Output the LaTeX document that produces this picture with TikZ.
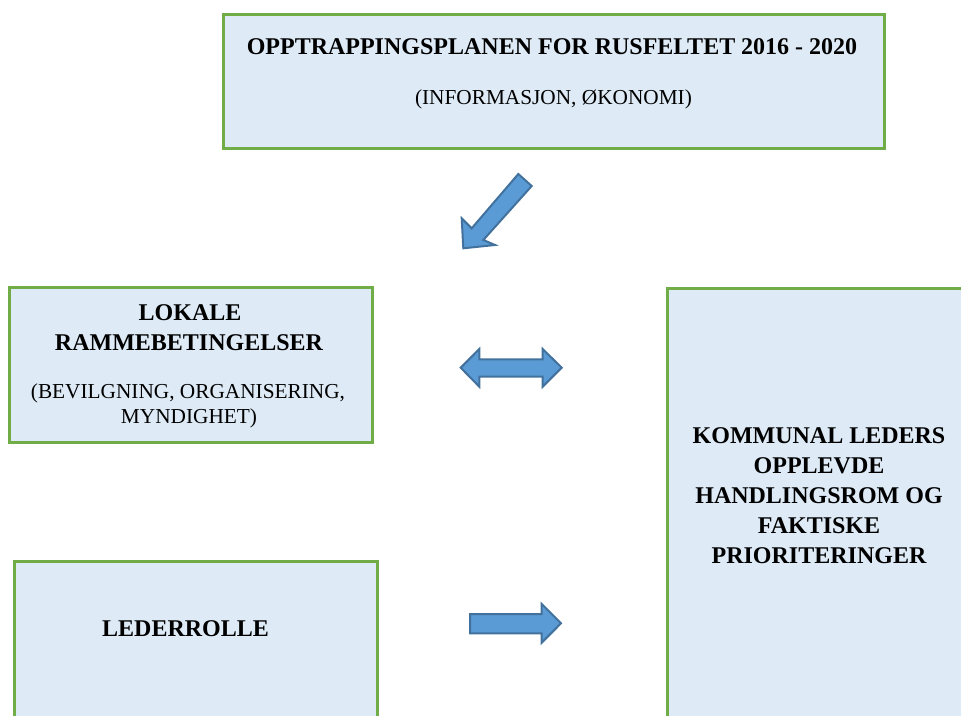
\documentclass[tikz,border=0pt]{standalone}
\usepackage{fontspec}
\setmainfont{Liberation Serif}
\definecolor{boxfill}{HTML}{DEEBF7}
\definecolor{boxline}{HTML}{70AD47}
\definecolor{arrfill}{HTML}{5B9BD5}
\definecolor{arrline}{HTML}{41719C}
\tikzset{
  panel/.style={draw=boxline, fill=boxfill, line width=3pt, inner sep=0pt, outer sep=0pt, anchor=north west},
  btxt/.style={font=\fontsize{24}{30}\selectfont\bfseries, inner sep=0pt, anchor=base},
  rtxt/.style={font=\fontsize{21.3}{25}\selectfont, inner sep=0pt, anchor=base},
  blockarrow/.style={draw=arrline, fill=arrfill, line width=2pt, line join=miter},
}
\begin{document}
\begin{tikzpicture}[x=1pt,y=-1pt]
\useasboundingbox (0,0) rectangle (961,715);
\clip (0,0) rectangle (961,715);
% boxes
\node[panel, minimum width=661pt, minimum height=134pt] (plan) at (223,14) {};
\node[panel, minimum width=363pt, minimum height=155pt] (lokale) at (9,287) {};
\node[panel, minimum width=308pt, minimum height=442pt] (kommunal) at (667,288) {};
\node[panel, minimum width=363pt, minimum height=170pt] (leder) at (14,561) {};
% texts
\node[btxt] (t1) at (552,54) {OPPTRAPPINGSPLANEN FOR RUSFELTET 2016 - 2020};
\node[rtxt] (t2) at (553.5,104) {(INFORMASJON, ØKONOMI)};
\node[btxt] (l1) at (190,320.7) {LOKALE};
\node[btxt] (l2) at (189,350.7) {RAMMEBETINGELSER};
\node[rtxt] (l3) at (188,398.3) {(BEVILGNING, ORGANISERING,};
\node[rtxt] (l4) at (189,423.3) {MYNDIGHET)};
\node[btxt] (k1) at (819,443.3) {KOMMUNAL LEDERS};
\node[btxt] (k2) at (819,473.3) {OPPLEVDE};
\node[btxt] (k3) at (819,503.3) {HANDLINGSROM OG};
\node[btxt] (k4) at (819,533.3) {FAKTISKE};
\node[btxt] (k5) at (819,563.3) {PRIORITERINGER};
\node[btxt, anchor=base west] (r1) at (102,636) {LEDERROLLE};
% block arrows
\draw[blockarrow] (463.3,248.3) -- (461.7,218.3) -- (471.7,228.3) -- (518.3,174) -- (531.7,186) -- (483.3,240) -- (495,245) -- cycle;
\draw[blockarrow] (460.7,367.7) -- (479.3,349) -- (479.3,359.3) -- (542.7,359.3) -- (542.7,349) -- (561.7,367.7) -- (542.7,386.7) -- (542.7,376.7) -- (479.3,376.7) -- (479.3,386.7) -- cycle;
\draw[blockarrow] (470,614) -- (541.7,614) -- (541.7,604) -- (561,623.3) -- (541.7,642.7) -- (541.7,633.3) -- (470,633.3) -- cycle;
\end{tikzpicture}
\end{document}
